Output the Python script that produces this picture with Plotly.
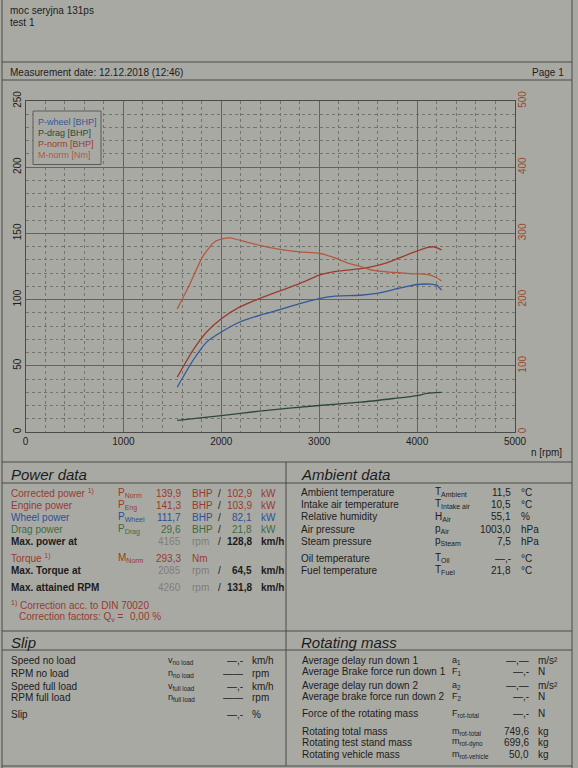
import plotly.graph_objects as go

# ---------------- data ----------------
rpm_wheel = [1550, 1710, 1850, 2000, 2190, 2390, 2600, 2800, 3000, 3140, 3420, 3620, 3830, 4000, 4130, 4200, 4250]
p_wheel = [33.9, 54.0, 67.9, 75.5, 83.1, 88.1, 92.4, 97.0, 100.8, 102.5, 103.3, 105.1, 108.8, 111.4, 111.7, 110.9, 107.1]

rpm_drag = [1550, 2000, 2390, 3000, 3420, 3760, 4000, 4100, 4250]
p_drag = [8.8, 12.3, 15.8, 20.0, 22.5, 25.3, 27.5, 29.2, 29.9]

rpm_norm = [1550, 1710, 1850, 2000, 2190, 2390, 2600, 2800, 3000, 3140, 3280, 3480, 3690, 3890, 4100, 4165, 4250]
p_norm = [41.4, 61.6, 75.5, 85.6, 94.5, 100.8, 106.6, 112.1, 118.4, 121.0, 122.2, 124.0, 127.8, 133.6, 139.2, 139.9, 137.6]

rpm_torque = [1550, 1680, 1810, 1930, 2020, 2085, 2260, 2390, 2600, 2800, 3000, 3140, 3280, 3420, 3550, 3760, 3960, 4100, 4200, 4250]
m_norm = [186, 224, 265, 287, 292, 293.3, 287, 282, 276, 272, 270, 264, 256, 250, 244, 241, 239, 238, 233, 228]

x_ticks = [0, 1000, 2000, 3000, 4000, 5000]
y_left_ticks = [0, 50, 100, 150, 200, 250]
y_right_ticks = [0, 100, 200, 300, 400, 500]

legend_names = ["P-wheel [BHP]", "P-drag [BHP]", "P-norm [BHP]", "M-norm [Nm]"]

power_rows = [
    ("Corrected power <sup>1)</sup>", "P<sub>Norm</sub>", "139,9", "BHP", "102,9", "kW", "red"),
    ("Engine power", "P<sub>Eng</sub>", "141,3", "BHP", "103,9", "kW", "red"),
    ("Wheel power", "P<sub>Wheel</sub>", "111,7", "BHP", "82,1", "kW", "blue"),
    ("Drag power", "P<sub>Drag</sub>", "29,6", "BHP", "21,8", "kW", "green"),
]
max_rows = [
    ("Max. power at", "4165", "128,8"),
    ("Max. Torque at", "2085", "64,5"),
    ("Max. attained RPM", "4260", "131,8"),
]
torque_value = "293,3"

ambient_rows = [
    ("Ambient temperature", "T<sub>Ambient</sub>", "11,5", "°C"),
    ("Intake air temperature", "T<sub>Intake air</sub>", "10,5", "°C"),
    ("Relative humidity", "H<sub>Air</sub>", "55,1", "%"),
    ("Air pressure", "p<sub>Air</sub>", "1003,0", "hPa"),
    ("Steam pressure", "p<sub>Steam</sub>", "7,5", "hPa"),
    ("Oil temperature", "T<sub>Oil</sub>", "—,-", "°C"),
    ("Fuel temperature", "T<sub>Fuel</sub>", "21,8", "°C"),
]

slip_rows = [
    ("Speed no load", "v<sub>no load</sub>", "—,-", "km/h"),
    ("RPM no load", "n<sub>no load</sub>", "——", "rpm"),
    ("Speed full load", "v<sub>full load</sub>", "—,-", "km/h"),
    ("RPM full load", "n<sub>full load</sub>", "——", "rpm"),
    ("Slip", "", "—,-", "%"),
]

rot_rows = [
    ("Average delay run down 1", "a<sub>1</sub>", "—,—", "m/s²"),
    ("Average Brake force run down 1", "F<sub>1</sub>", "—,-", "N"),
    ("Average delay run down 2", "a<sub>2</sub>", "—,—", "m/s²"),
    ("Average brake force run down 2", "F<sub>2</sub>", "—,-", "N"),
    ("Force of the rotating mass", "F<sub>rot-total</sub>", "—,-", "N"),
    ("Rotating total mass", "m<sub>rot-total</sub>", "749,6", "kg"),
    ("Rotating test stand mass", "m<sub>rot-dyno</sub>", "699,6", "kg"),
    ("Rotating vehicle mass", "m<sub>rot-vehicle</sub>", "50,0", "kg"),
]

# ---------------- style ----------------
W, H = 578, 768
BG = "#a9a9a3"
LINE = "#4a4a48"
FONT = "Liberation Sans, Arial, sans-serif"
TXT = "#1c1c1c"
C = {"red": "#983a2e", "blue": "#2f4f95", "green": "#3f6a40", "black": TXT}
GRAY = "#7e7e7a"
C_WHEEL, C_DRAG, C_NORM, C_TORQ = "#34589a", "#2f4a34", "#9a3c30", "#b2593f"


def fx(x):
    return x / W


def fy(y):
    return 1 - y / H


fig = go.Figure()
line_kw = dict(shape="spline", smoothing=0.6, width=1.3)
fig.add_trace(go.Scatter(x=rpm_torque, y=m_norm, yaxis="y2", mode="lines",
                         line=dict(color=C_TORQ, **line_kw), hoverinfo="skip"))
fig.add_trace(go.Scatter(x=rpm_norm, y=p_norm, mode="lines",
                         line=dict(color=C_NORM, **line_kw), hoverinfo="skip"))
fig.add_trace(go.Scatter(x=rpm_wheel, y=p_wheel, mode="lines",
                         line=dict(color=C_WHEEL, **line_kw), hoverinfo="skip"))
fig.add_trace(go.Scatter(x=rpm_drag, y=p_drag, mode="lines",
                         line=dict(color=C_DRAG, **line_kw), hoverinfo="skip"))

annotations = []


def txt(x, y, s, anchor="left", size=10, color=TXT, yanchor="middle"):
    annotations.append(dict(x=fx(x), y=fy(y), xref="paper", yref="paper", text=s,
                            showarrow=False, xanchor=anchor, yanchor=yanchor,
                            font=dict(family=FONT, size=size, color=color)))


shapes = []


def hline(y, x0=2, x1=572, w=1):
    shapes.append(dict(type="line", xref="paper", yref="paper", x0=fx(x0), x1=fx(x1),
                       y0=fy(y), y1=fy(y), line=dict(color=LINE, width=w)))


def vline(x, y0, y1, w=1):
    shapes.append(dict(type="line", xref="paper", yref="paper", x0=fx(x), x1=fx(x),
                       y0=fy(y0), y1=fy(y1), line=dict(color=LINE, width=w)))


# header
txt(8, 10, "moc seryjna 131ps", size=10)
txt(8, 22, "test 1", size=10)
hline(62)
txt(8, 72, "Measurement date: 12.12.2018 (12:46)", size=10)
txt(566, 72, "Page 1", anchor="right", size=10)
hline(80)
vline(2, 0, 768)
vline(572, 0, 768)

# legend box (opaque, covers the grid)
shapes.append(dict(type="rect", xref="paper", yref="paper", x0=fx(33), x1=fx(101),
                   y0=fy(111), y1=fy(164.5), layer="above", fillcolor=BG,
                   line=dict(color="#5a5a58", width=1)))
for name, col, yy in zip(legend_names, [C_WHEEL, C_DRAG, C_NORM, C_TORQ], [121.7, 132.7, 143.7, 155]):
    txt(36, yy, name, size=9, color=col)

txt(529, 452, "n [rpm]", size=10)

# section lines
hline(462)
hline(483)
vline(286, 462, 631)
hline(631)
hline(650)
vline(286, 631, 766)
hline(766)

# Power data
txt(9, 474, "<i>Power data</i>", size=15)
ys = [493.3, 505.2, 517.3, 529.3]
for (lab, sym, v1, u1, v2, u2, col), yy in zip(power_rows, ys):
    c = C[col]
    txt(9, yy, lab, color=c)
    txt(116, yy, sym, color=c)
    txt(183, yy, v1, anchor="right", color=c)
    txt(190, yy, u1, color=c)
    txt(219, yy, "/", anchor="center", color=TXT)
    txt(254, yy, v2, anchor="right", color=c)
    txt(259, yy, u2, color=c)

max_ys = [541, 570, 587]
for (lab, rpm_v, kmh), yy in zip(max_rows, max_ys):
    txt(9, yy, "<b>" + lab + "</b>")
    txt(183, yy, rpm_v, anchor="right", color=GRAY)
    txt(190, yy, "rpm", color=GRAY)
    txt(219, yy, "/", anchor="center")
    txt(254, yy, "<b>" + kmh + "</b>", anchor="right")
    txt(259, yy, "<b>km/h</b>")

txt(9, 558.3, "Torque <sup>1)</sup>", color=C["red"])
txt(116, 558.3, "M<sub>Norm</sub>", color=C["red"])
txt(183, 558.3, torque_value, anchor="right", color=C["red"])
txt(190, 558.3, "Nm", color=C["red"])
txt(9, 605, "<sup>1)</sup> Correction acc. to DIN 70020", color=C["red"])
txt(17, 616.5, "Correction factors: Q<sub>v</sub> =", color=C["red"])
txt(128, 616.5, "0,00 %", color=C["red"])

# Ambient data
txt(299, 474, "<i>Ambient data</i>", size=15)
amb_ys = [492.3, 504.3, 516.7, 529, 541, 558.3, 570]
for (lab, sym, v, u), yy in zip(ambient_rows, amb_ys):
    txt(299, yy, lab)
    txt(433, yy, sym)
    txt(513, yy, v, anchor="right")
    txt(519, yy, u)

# Slip
txt(9, 642.5, "<i>Slip</i>", size=15)
slip_ys = [660.7, 673.3, 686, 697.7, 714.3]
for (lab, sym, v, u), yy in zip(slip_rows, slip_ys):
    txt(9, yy, lab)
    if sym:
        txt(166, yy, sym, size=9)
    txt(245, yy, v, anchor="right")
    txt(250, yy, u)

# Rotating mass
txt(299, 642, "<i>Rotating mass</i>", size=15)
rot_ys = [660, 671.7, 685, 696, 713.3, 731, 742.3, 754.3]
for (lab, sym, v, u), yy in zip(rot_rows, rot_ys):
    txt(300, yy, lab)
    txt(450, yy, sym, size=9)
    txt(531, yy, v, anchor="right")
    txt(536, yy, u)

grid_major = "#63635f"
grid_minor = "#74746f"

fig.update_layout(
    width=W, height=H, margin=dict(l=0, r=0, t=0, b=0),
    paper_bgcolor=BG, plot_bgcolor=BG, showlegend=False,
    font=dict(family=FONT, size=10, color=TXT),
    xaxis=dict(domain=[fx(25.5), fx(515)], range=[0, 5000], tickmode="array",
               tickvals=x_ticks, ticktext=[str(t) for t in x_ticks],
               showgrid=True, gridcolor=grid_major, gridwidth=1,
               minor=dict(tickmode="linear", tick0=0, dtick=200, showgrid=True,
                          gridcolor=grid_minor, griddash="dot", gridwidth=1),
               showline=True, linecolor=LINE, mirror=True, zeroline=False,
               ticks="", automargin=False, tickfont=dict(size=10, color=TXT)),
    yaxis=dict(domain=[fy(432), fy(101)], range=[0, 250], tickmode="array",
               tickvals=y_left_ticks, ticktext=[str(t) for t in y_left_ticks],
               showgrid=True, gridcolor=grid_major, gridwidth=1,
               minor=dict(tickmode="linear", tick0=0, dtick=10, showgrid=True,
                          gridcolor=grid_minor, griddash="dot", gridwidth=1),
               showline=True, linecolor=LINE, mirror=True, zeroline=False,
               ticks="", tickangle=-90, automargin=False,
               tickfont=dict(size=10, color=TXT)),
    yaxis2=dict(range=[0, 500], overlaying="y", side="right", anchor="x",
                tickmode="array", tickvals=y_right_ticks,
                ticktext=[str(t) for t in y_right_ticks],
                showgrid=False, zeroline=False, showline=False, ticks="",
                tickangle=-90, automargin=False,
                tickfont=dict(size=10, color="#9a4a30")),
    annotations=annotations, shapes=shapes,
)

fig.write_html("out.html", config={"displayModeBar": False, "staticPlot": True})

# remove the browser's default body margin so the figure sits at (0, 0)
with open("out.html", "r", encoding="utf-8") as f:
    html = f.read()
html = html.replace("<body>", '<body style="margin:0;padding:0;overflow:hidden">', 1)
html = html.replace("<head>", "<head><style>html,body{margin:0;padding:0;}</style>", 1)
with open("out.html", "w", encoding="utf-8") as f:
    f.write(html)
